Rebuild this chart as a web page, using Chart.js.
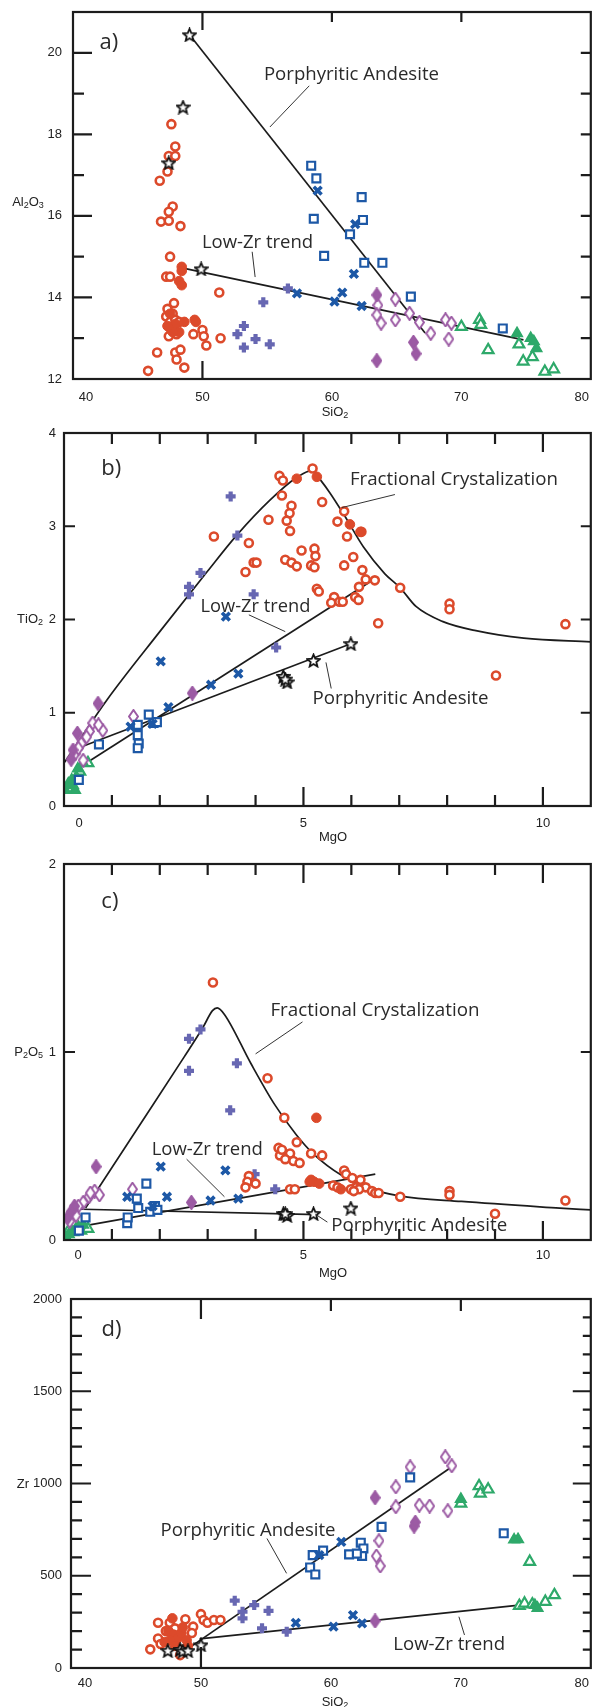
<!DOCTYPE html>
<html>
<head>
<meta charset="utf-8">
<script src="https://cdn.jsdelivr.net/npm/chart.js@4.4.0/dist/chart.umd.min.js"></script>
<style>
  html, body { margin: 0; padding: 0; background: #fff; }
  body { position: relative; width: 600px; height: 1707px; overflow: hidden; }
  canvas { position: absolute; left: 0; }
</style>
</head>
<body>
<canvas id="chart-a" width="600" height="420" style="top:0px"></canvas>
<canvas id="chart-b" width="600" height="432" style="top:420px"></canvas>
<canvas id="chart-c" width="600" height="433" style="top:852px"></canvas>
<canvas id="chart-d" width="600" height="422" style="top:1285px"></canvas>
<script>
// ---- a) Al2O3 vs SiO2 ----
const aXTicks = [40, 50, 60, 70, 80];
const aYTicks = [12, 14, 16, 18, 20];
const aRedOpen = [[47.6,18.25],[47.9,17.7],[47.4,17.47],[47.9,17.47],[47.3,17.09],[46.7,16.86],[47.7,16.23],[47.4,16.1],[46.8,15.86],[47.4,15.88],[48.3,15.75],[47.5,15.0],[47.2,14.51],[47.5,14.51],[51.3,14.12],[47.8,13.86],[47.3,13.72],[47.7,13.6],[47.2,13.53],[47.5,13.4],[47.9,13.45],[48.2,13.4],[47.5,13.25],[47.8,13.2],[48.0,13.1],[47.4,13.05],[49.3,13.1],[50.0,13.2],[50.1,13.05],[50.3,12.82],[51.4,13.0],[47.9,12.65],[48.3,12.72],[46.5,12.65],[48.0,12.48],[48.6,12.28],[45.8,12.2]];
const aRedFill = [[48.4,14.75],[48.4,14.65],[48.2,14.4],[48.4,14.3],[49.4,13.45],[49.5,13.4],[47.5,13.6],[47.9,13.35],[48.2,13.15],[47.7,13.15],[48.6,13.4],[47.3,13.3]];
const aPlus = [[54.7,13.88],[53.2,13.3],[52.7,13.1],[53.2,12.77],[54.1,12.98],[55.2,12.85],[56.6,14.22]];
const aBlueSq = [[58.4,17.23],[58.8,16.92],[58.6,15.93],[59.4,15.02],[62.3,16.46],[62.4,15.9],[61.4,15.55],[62.5,14.85],[63.9,14.85],[66.1,14.02],[73.2,13.24]];
const aBlueX = [[58.9,16.62],[61.8,15.8],[61.7,14.58],[57.3,14.1],[60.2,13.9],[60.8,14.12],[62.3,13.79]];
const aDiaOpen = [[63.55,13.81],[63.47,13.57],[63.8,13.37],[64.9,13.96],[64.9,13.45],[66.0,13.61],[66.76,13.39],[67.64,13.12],[68.78,13.45],[69.23,13.37],[69.03,12.98]];
const aDiaFill = [[63.47,14.06],[66.3,12.9],[66.5,12.62],[63.47,12.45]];
const aGreenOpen = [[70.0,13.28],[71.4,13.45],[71.5,13.33],[72.07,12.71],[74.45,12.85],[74.78,12.43],[75.49,12.54],[76.45,12.18],[77.13,12.24]];
const aGreenFill = [[74.3,13.12],[75.36,13.0],[75.6,12.92],[75.8,12.75]];
const aStars = [[49.0,20.44],[48.5,18.67],[47.4,17.3],[49.9,14.7]];
const aTrendPA = [[49.0,20.44],[67.2,13.13]];
const aTrendLZ = [[48.5,14.72],[74.8,12.96]];

// ---- b) TiO2 vs MgO ----
const bXTicks = [0, 5, 10];
const bYTicks = [0, 1, 2, 3, 4];
const bRedOpen = [[4.50,3.54],[4.57,3.49],[4.55,3.33],[4.75,3.22],[4.71,3.14],[4.65,3.06],[4.72,2.95],[5.19,3.62],[5.39,3.26],[5.71,3.05],[5.85,3.16],[5.91,2.89],[6.04,2.67],[5.85,2.58],[4.96,2.74],[5.23,2.76],[5.25,2.68],[4.62,2.64],[4.75,2.61],[4.86,2.57],[5.16,2.58],[5.23,2.56],[6.23,2.53],[6.30,2.43],[6.49,2.42],[6.16,2.35],[7.02,2.34],[5.28,2.33],[5.32,2.30],[5.64,2.24],[5.58,2.18],[5.75,2.19],[5.82,2.19],[6.08,2.24],[6.15,2.21],[6.56,1.96],[8.05,2.17],[8.05,2.11],[10.47,1.95],[9.02,1.40],[6.21,2.94],[4.27,3.07],[3.86,2.82],[3.13,2.89],[3.96,2.61],[4.02,2.61],[3.79,2.51]];
const bRedFill = [[4.86,3.51],[5.28,3.53],[5.97,3.02],[6.19,2.94]];
const bPlus = [[3.48,3.32],[3.62,2.90],[2.85,2.50],[2.61,2.35],[2.61,2.27],[3.96,2.27],[4.43,1.70]];
const bBlueX = [[3.38,2.03],[2.02,1.55],[3.64,1.42],[3.07,1.30],[2.18,1.06],[1.39,0.85],[1.85,0.88]];
const bBlueSq = [[0.73,0.66],[1.54,0.87],[1.54,0.76],[1.56,0.67],[1.54,0.62],[1.77,0.98],[1.87,0.89],[1.94,0.90],[0.31,0.28]];
const bDiaOpen = [[0.60,0.89],[0.81,0.81],[0.72,0.87],[0.53,0.80],[0.47,0.74],[0.36,0.67],[0.40,0.49],[0.23,0.56],[1.45,0.96],[0.30,0.62]];
const bDiaFill = [[0.71,1.10],[0.28,0.78],[0.19,0.60],[0.15,0.50],[2.68,1.21]];
const bGreenOpen = [[0.50,0.46],[0.33,0.37],[0.12,0.19]];
const bGreenFill = [[0.02,0.17],[0.19,0.22],[0.09,0.24],[0.16,0.28],[0.26,0.31],[0.29,0.40],[0.40,0.46],[0.23,0.17]];
const bStars = [[5.99,1.74],[5.21,1.56],[4.58,1.39],[4.66,1.33],[4.62,1.36]];
const bTrendFC = [[0,0.46],[0.9,1.14],[2.0,1.87],[3.0,2.52],[3.6,2.9],[4.3,3.28],[4.85,3.52],[5.19,3.60],[5.35,3.50],[5.55,3.36],[5.85,3.12],[6.25,2.78],[6.7,2.49],[7.02,2.34],[7.35,2.14],[7.9,1.98],[8.6,1.88],[9.6,1.80],[11,1.76]];
const bTrendLZ = [[0.4,0.44],[6.5,2.44]];
const bTrendPA = [[0.19,0.60],[5.99,1.74]];

// ---- c) P2O5 vs MgO ----
const cXTicks = [0, 5, 10];
const cYTicks = [0, 1, 2];
const cRedOpen = [[3.11,1.37],[4.25,0.86],[4.60,0.65],[4.86,0.52],[4.48,0.49],[4.51,0.45],[4.72,0.46],[4.62,0.43],[4.79,0.42],[4.92,0.41],[5.16,0.46],[5.39,0.45],[3.86,0.34],[3.83,0.31],[4.0,0.30],[3.79,0.28],[4.72,0.27],[4.82,0.27],[5.85,0.37],[5.89,0.35],[6.02,0.33],[6.19,0.32],[5.62,0.29],[5.71,0.28],[6.09,0.28],[6.30,0.28],[5.99,0.27],[6.16,0.27],[6.05,0.26],[6.43,0.26],[6.5,0.25],[6.57,0.25],[7.02,0.23],[8.05,0.26],[8.05,0.24],[10.47,0.21],[9.0,0.14],[4.55,0.48]];
const cRedFill = [[5.27,0.65],[5.16,0.32],[5.13,0.31],[5.22,0.31],[5.33,0.30],[5.78,0.27]];
const cPlus = [[2.61,1.07],[2.85,1.12],[2.61,0.90],[3.61,0.94],[3.47,0.69],[3.98,0.35],[4.41,0.27]];
const cBlueX = [[2.02,0.39],[3.37,0.37],[2.15,0.23],[1.32,0.23],[3.06,0.21],[3.64,0.22],[1.85,0.18]];
const cBlueSq = [[1.72,0.30],[1.52,0.22],[1.32,0.09],[1.33,0.12],[1.55,0.17],[1.80,0.15],[1.90,0.18],[1.95,0.16],[0.45,0.12],[0.31,0.05]];
const cDiaOpen = [[0.64,0.26],[0.74,0.24],[0.52,0.23],[0.40,0.20],[0.30,0.18],[0.55,0.25],[1.43,0.27],[0.20,0.16],[0.25,0.13],[0.12,0.10]];
const cDiaFill = [[0.67,0.39],[2.66,0.20],[0.15,0.15],[0.22,0.18],[0.08,0.12]];
const cGreenOpen = [[0.35,0.05],[0.12,0.06],[0.5,0.06]];
const cGreenFill = [[0.02,0.02],[0.1,0.03],[0.15,0.05],[0.2,0.04],[0.25,0.06],[0.3,0.07],[0.05,0.01],[0.4,0.08]];
const cStars = [[4.58,0.14],[4.66,0.13],[4.62,0.14],[5.21,0.14],[5.99,0.17]];
const cTrendFC = [[0.45,0.17],[1.5,0.58],[2.5,0.97],[2.9,1.13],[3.1,1.22],[3.2,1.235],[3.35,1.2],[3.9,0.94],[4.4,0.72],[4.85,0.56],[5.2,0.46],[5.82,0.34],[6.3,0.28],[7.0,0.235],[8.3,0.205],[10.35,0.17],[11,0.16]];
const cTrendLZ = [[0.3,0.07],[6.5,0.35]];
const cTrendPA = [[0.15,0.165],[5.3,0.135]];

// ---- d) Zr vs SiO2 ----
const dXTicks = [40, 50, 60, 70, 80];
const dYTicks = [0, 500, 1000, 1500, 2000];
const dRedOpen = [[46.7,245],[46.1,101],[46.7,160],[48.8,264],[50.0,292],[50.2,260],[50.5,245],[51.0,260],[51.5,260],[49.4,224],[48.4,70],[47.6,245],[48.0,215],[46.9,130],[49.3,190],[47.3,200],[48.6,140],[47.9,180]];
const dRedFill = [[47.8,269],[47.5,200],[47.9,180],[48.2,160],[47.6,150],[48.5,190],[48.9,150],[47.2,140],[48.0,120],[48.6,220],[49.0,120]];
const dPlus = [[52.6,365],[53.2,305],[53.2,269],[54.1,341],[55.2,310],[54.7,215],[56.6,197]];
const dBlueX = [[57.3,245],[60.2,224],[61.7,287],[62.4,242],[60.8,684],[59.1,612]];
const dBlueSq = [[66.1,1033],[63.9,765],[62.3,679],[62.5,648],[62.4,607],[61.4,616],[62.0,620],[59.4,636],[58.6,612],[58.4,545],[58.8,507],[73.3,730]];
const dDiaOpen = [[68.8,1144],[69.3,1096],[66.1,1090],[65.0,982],[65.0,874],[66.8,883],[67.6,878],[69.0,852],[63.7,690],[63.5,607],[63.8,553]];
const dDiaFill = [[63.4,923],[66.4,769],[66.5,790],[63.4,255]];
const dGreenOpen = [[70.0,892],[71.4,986],[71.5,946],[72.1,968],[75.3,576],[74.5,337],[74.9,350],[76.5,359],[77.2,395],[75.5,345]];
const dGreenFill = [[74.4,697],[74.1,695],[70.0,915],[75.7,340],[75.9,325]];
const dStars = [[47.45,94],[48.4,100],[48.6,92],[49.0,94],[50.0,125]];
const dTrendPA = [[48.7,90],[69.2,1085]];
const dTrendLZ = [[49.9,158],[74.5,341]];

const INK = '#1c1c1c';
const RED = '#dc4a2b';
const BLUE = '#1d58a6';
const PLUS = '#6767b2';
const VIOLET = '#9c5ba4';
const GREEN = '#2ea96a';
const TICK_FONT = '"Liberation Sans", Arial, sans-serif';
const NOTE_FONT = '"Open Sans", sans-serif';

// little canvases used as point styles
function makeStar(size, lw) {
  const c = document.createElement('canvas');
  c.width = c.height = size;
  const g = c.getContext('2d');
  const r = size / 2 - lw / 2, ri = r * 0.45, cx = size / 2, cy = size / 2 + 0.6;
  g.beginPath();
  for (let i = 0; i < 10; i++) {
    const a = -Math.PI / 2 + i * Math.PI / 5;
    const rr = i % 2 ? ri : r;
    g.lineTo(cx + rr * Math.cos(a), cy + rr * Math.sin(a));
  }
  g.closePath();
  g.fillStyle = '#fff';
  g.fill();
  g.lineWidth = lw;
  g.strokeStyle = '#111';
  g.stroke();
  return c;
}

function makeDiamond(w, h, filled) {
  const c = document.createElement('canvas');
  c.width = w; c.height = h;
  const g = c.getContext('2d');
  g.beginPath();
  g.moveTo(w / 2, 1); g.lineTo(w - 1, h / 2); g.lineTo(w / 2, h - 1); g.lineTo(1, h / 2);
  g.closePath();
  g.fillStyle = filled ? VIOLET : '#fff';
  g.fill();
  g.lineWidth = 2;
  g.strokeStyle = VIOLET;
  g.stroke();
  return c;
}

const STAR = makeStar(15, 1.8);
const DIA_OPEN = makeDiamond(11, 15, false);
const DIA_FILL = makeDiamond(11, 15, true);

const look = {
  redOpen: {pointStyle: 'circle', pointRadius: 4, pointBorderWidth: 2.6, pointBorderColor: RED, pointBackgroundColor: '#fff'},
  redFill: {pointStyle: 'circle', pointRadius: 4.8, pointBorderWidth: 1, pointBorderColor: RED, pointBackgroundColor: RED},
  plus: {pointStyle: 'cross', pointRadius: 5, pointBorderWidth: 4.2, pointBorderColor: PLUS},
  blueX: {pointStyle: 'crossRot', pointRadius: 5.5, pointBorderWidth: 3.6, pointBorderColor: BLUE},
  blueSq: {pointStyle: 'rect', pointRadius: 5.6, pointBorderWidth: 2.2, pointBorderColor: BLUE, pointBackgroundColor: '#fff'},
  diaOpen: {pointStyle: DIA_OPEN, pointRadius: 6},
  diaFill: {pointStyle: DIA_FILL, pointRadius: 6},
  greenOpen: {pointStyle: 'triangle', pointRadius: 6.2, pointBorderWidth: 2.2, pointBorderColor: GREEN, pointBackgroundColor: '#fff'},
  greenFill: {pointStyle: 'triangle', pointRadius: 6.2, pointBorderWidth: 1.5, pointBorderColor: GREEN, pointBackgroundColor: GREEN},
  star: {pointStyle: STAR, pointRadius: 7}
};

function series(arr, style) {
  return Object.assign({data: arr.map(([x, y]) => ({x, y})), showLine: false}, style);
}

function trend(arr, curved) {
  return {
    data: arr.map(([x, y]) => ({x, y})),
    showLine: true,
    borderColor: INK,
    borderWidth: 1.7,
    pointRadius: 0,
    cubicInterpolationMode: curved ? 'monotone' : 'default'
  };
}

// draws text like "Al_2O_3" with subscripts
function subText(ctx, str, x, y, size, align) {
  const parts = [];
  for (let i = 0; i < str.length; i++) {
    if (str[i] === '_') { parts.push({t: str[i + 1], sub: true}); i++; }
    else parts.push({t: str[i], sub: false});
  }
  const big = size + 'px ' + TICK_FONT;
  const small = Math.round(size * 0.72) + 'px ' + TICK_FONT;
  let w = 0;
  parts.forEach(p => { ctx.font = p.sub ? small : big; p.w = ctx.measureText(p.t).width; w += p.w; });
  let cx = align === 'right' ? x - w : align === 'center' ? x - w / 2 : x;
  ctx.textAlign = 'left';
  ctx.textBaseline = 'middle';
  parts.forEach(p => {
    ctx.font = p.sub ? small : big;
    ctx.fillText(p.t, cx, p.sub ? y + size * 0.3 : y);
    cx += p.w;
  });
}

// frame, inward ticks, tick labels, titles and notes
const framePlugin = {
  id: 'frame',
  afterDraw(chart, args, o) {
    const {ctx, chartArea: A, scales: {x, y}} = chart;
    ctx.save();
    ctx.strokeStyle = INK;
    ctx.lineWidth = 2.2;
    ctx.strokeRect(A.left, A.top, A.right - A.left, A.bottom - A.top);
    ctx.beginPath();
    o.marks.forEach(m => m.v.forEach(v => {
      if (m.side === 'left') { const p = y.getPixelForValue(v); ctx.moveTo(A.left, p); ctx.lineTo(A.left + m.len, p); }
      if (m.side === 'right') { const p = y.getPixelForValue(v); ctx.moveTo(A.right, p); ctx.lineTo(A.right - m.len, p); }
      if (m.side === 'top') { const p = x.getPixelForValue(v); ctx.moveTo(p, A.top); ctx.lineTo(p, A.top + m.len); }
      if (m.side === 'bottom') { const p = x.getPixelForValue(v); ctx.moveTo(p, A.bottom); ctx.lineTo(p, A.bottom - m.len); }
    }));
    ctx.stroke();

    ctx.fillStyle = '#222';
    ctx.font = '13px ' + TICK_FONT;
    ctx.textAlign = 'center';
    ctx.textBaseline = 'middle';
    o.xLabels.forEach((v, i) => {
      let p = x.getPixelForValue(v);
      if (i === 0) p += o.shift[0];
      if (i === o.xLabels.length - 1) p += o.shift[1];
      ctx.fillText(String(v), p, A.bottom + o.xGap);
    });
    ctx.textAlign = 'right';
    o.yLabels.forEach(v => ctx.fillText(String(v), A.left - o.yGap, y.getPixelForValue(v)));

    o.titles.forEach(t => subText(ctx, t.t, t.x, t.y, 13, t.align));

    ctx.fillStyle = '#2a2a2a';
    ctx.textAlign = 'left';
    o.notes.forEach(n => {
      if (n.w) {
        ctx.font = '20px ' + NOTE_FONT;
        const s = 20 * n.w / ctx.measureText(n.t).width;
        ctx.font = s.toFixed(1) + 'px ' + NOTE_FONT;
      } else {
        ctx.font = '22px ' + NOTE_FONT;
      }
      ctx.fillText(n.t, x.getPixelForValue(n.x), y.getPixelForValue(n.y));
    });
    ctx.lineWidth = 1;
    ctx.strokeStyle = '#333';
    ctx.beginPath();
    o.leaders.forEach(([x1, y1, x2, y2]) => {
      ctx.moveTo(x.getPixelForValue(x1), y.getPixelForValue(y1));
      ctx.lineTo(x.getPixelForValue(x2), y.getPixelForValue(y2));
    });
    ctx.stroke();
    ctx.restore();
  }
};

function panel(id, sets, range, pad, frame) {
  new Chart(document.getElementById(id), {
    type: 'scatter',
    data: {datasets: sets},
    options: {
      responsive: false,
      animation: false,
      devicePixelRatio: 1,
      events: [],
      layout: {padding: pad},
      scales: {
        x: {type: 'linear', min: range[0], max: range[1], display: false},
        y: {type: 'linear', min: range[2], max: range[3], display: false}
      },
      plugins: {legend: {display: false}, tooltip: {enabled: false}, frame: frame}
    },
    plugins: [framePlugin]
  });
}

//a) 알루미나
panel('chart-a', [
  series(aStars, look.star),
  series(aRedFill, look.redFill),
  series(aRedOpen, look.redOpen),
  series(aPlus, look.plus),
  series(aBlueX, look.blueX),
  series(aBlueSq, look.blueSq),
  series(aDiaFill, look.diaFill),
  series(aDiaOpen, look.diaOpen),
  series(aGreenFill, look.greenFill),
  series(aGreenOpen, look.greenOpen),
  trend(aTrendPA),
  trend(aTrendLZ)
], [40, 80, 12, 21], {left: 73, right: 1, top: 12, bottom: 41}, {
  marks: [
    {side: 'left', v: [14, 16, 18, 20], len: 19},
    {side: 'left', v: [13, 15, 17, 19], len: 11},
    {side: 'right', v: [13, 14, 15, 16, 17, 18, 19, 20], len: 10},
    {side: 'top', v: [50], len: 18},
    {side: 'top', v: [60, 70], len: 10},
    {side: 'bottom', v: [50], len: 18}
  ],
  xLabels: aXTicks, yLabels: aYTicks, xGap: 18, yGap: 11, shift: [13, -9],
  titles: [{t: 'Al_2O_3', x: 28, y: 202, align: 'center'}, {t: 'SiO_2', x: 335, y: 412, align: 'center'}],
  notes: [
    {t: 'a)', x: 42.05, y: 20.25},
    {t: 'Porphyritic Andesite', x: 54.75, y: 19.46, w: 175},
    {t: 'Low-Zr trend', x: 49.96, y: 15.34, w: 111}
  ],
  leaders: [[58.25, 19.19, 55.21, 18.18], [53.84, 15.12, 54.07, 14.5]]
});

//b) 티타니아
const mgoMarks = [
  {side: 'top', v: [1, 2, 3, 4, 6, 7, 8, 9], len: 11},
  {side: 'top', v: [5, 10], len: 19},
  {side: 'bottom', v: [1, 2, 3, 4, 6, 7, 8, 9], len: 11},
  {side: 'bottom', v: [5, 10], len: 19}
];
panel('chart-b', [
  series(bStars, look.star),
  series(bRedFill, look.redFill),
  series(bRedOpen, look.redOpen),
  series(bPlus, look.plus),
  series(bBlueX, look.blueX),
  series(bBlueSq, look.blueSq),
  series(bDiaFill, look.diaFill),
  series(bDiaOpen, look.diaOpen),
  series(bGreenFill, look.greenFill),
  series(bGreenOpen, look.greenOpen),
  trend(bTrendFC, true),
  trend(bTrendLZ),
  trend(bTrendPA)
], [0, 11, 0, 4], {left: 64, right: 1, top: 13, bottom: 46}, {
  marks: mgoMarks.concat([
    {side: 'left', v: [1, 2, 3], len: 11},
    {side: 'right', v: [1, 2, 3], len: 10}
  ]),
  xLabels: bXTicks, yLabels: bYTicks, xGap: 17, yGap: 8, shift: [15, 0],
  titles: [{t: 'TiO_2', x: 43, y: 199, align: 'right'}, {t: 'MgO', x: 333, y: 417, align: 'center'}],
  notes: [
    {t: 'b)', x: 0.78, y: 3.62},
    {t: 'Fractional Crystalization', x: 5.97, y: 3.50, w: 208},
    {t: 'Low-Zr trend', x: 2.85, y: 2.14, w: 110},
    {t: 'Porphyritic Andesite', x: 5.19, y: 1.15, w: 176}
  ],
  leaders: [[6.91, 3.34, 5.80, 3.20], [3.86, 2.05, 4.62, 1.87], [5.47, 1.54, 5.58, 1.26]]
});

//c) 인
panel('chart-c', [
  series(cStars, look.star),
  series(cRedFill, look.redFill),
  series(cRedOpen, look.redOpen),
  series(cPlus, look.plus),
  series(cBlueX, look.blueX),
  series(cBlueSq, look.blueSq),
  series(cDiaFill, look.diaFill),
  series(cDiaOpen, look.diaOpen),
  series(cGreenFill, look.greenFill),
  series(cGreenOpen, look.greenOpen),
  trend(cTrendFC, true),
  trend(cTrendLZ),
  trend(cTrendPA)
], [0, 11, 0, 2], {left: 64, right: 1, top: 12, bottom: 45}, {
  marks: mgoMarks.concat([
    {side: 'left', v: [1], len: 11},
    {side: 'right', v: [1], len: 10}
  ]),
  xLabels: cXTicks, yLabels: cYTicks, xGap: 15, yGap: 8, shift: [14, 0],
  titles: [{t: 'P_2O_5', x: 43, y: 200, align: 'right'}, {t: 'MgO', x: 333, y: 421, align: 'center'}],
  notes: [
    {t: 'c)', x: 0.78, y: 1.80},
    {t: 'Fractional Crystalization', x: 4.31, y: 1.22, w: 209},
    {t: 'Low-Zr trend', x: 1.83, y: 0.48, w: 111},
    {t: 'Porphyritic Andesite', x: 5.58, y: 0.075, w: 176}
  ],
  leaders: [[4.98, 1.16, 4.0, 0.99], [2.56, 0.43, 3.35, 0.23], [5.25, 0.137, 5.5, 0.095]]
});

//d) 지르코늄
const zrMinor = [100, 200, 300, 400, 600, 700, 800, 900, 1100, 1200, 1300, 1400, 1600, 1700, 1800, 1900];
panel('chart-d', [
  series(dStars, look.star),
  series(dRedFill, look.redFill),
  series(dRedOpen, look.redOpen),
  series(dPlus, look.plus),
  series(dBlueX, look.blueX),
  series(dBlueSq, look.blueSq),
  series(dDiaFill, look.diaFill),
  series(dDiaOpen, look.diaOpen),
  series(dGreenFill, look.greenFill),
  series(dGreenOpen, look.greenOpen),
  trend(dTrendPA),
  trend(dTrendLZ)
], [40, 80, 0, 2000], {left: 71, right: 1, top: 14, bottom: 39}, {
  marks: [
    {side: 'left', v: [500, 1000, 1500], len: 20},
    {side: 'left', v: zrMinor, len: 11},
    {side: 'right', v: [500, 1000, 1500], len: 18},
    {side: 'right', v: zrMinor, len: 8},
    {side: 'top', v: [50], len: 20},
    {side: 'top', v: [60, 70], len: 12},
    {side: 'bottom', v: [50], len: 21}
  ],
  xLabels: dXTicks, yLabels: dYTicks, xGap: 15, yGap: 9, shift: [14, -9],
  titles: [{t: 'Zr', x: 29, y: 199, align: 'right'}, {t: 'SiO_2', x: 335, y: 417, align: 'center'}],
  notes: [
    {t: 'd)', x: 42.35, y: 1836},
    {t: 'Porphyritic Andesite', x: 46.89, y: 744, w: 175},
    {t: 'Low-Zr trend', x: 64.8, y: 128, w: 112}
  ],
  leaders: [[55.08, 702, 56.59, 513], [69.85, 278, 70.28, 179]]
});
</script>
</body>
</html>
